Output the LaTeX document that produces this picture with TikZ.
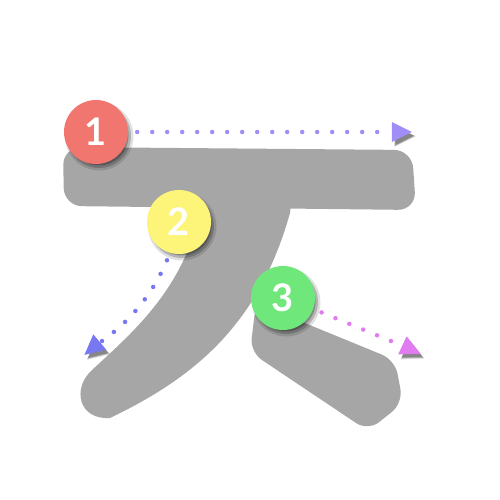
\documentclass[tikz,border=0pt]{standalone}
\usepackage{fontspec}
\setsansfont{Lato}
\usetikzlibrary{shapes.geometric,shadows}

\definecolor{strokegray}{HTML}{A6A6A6}
\definecolor{numred}{HTML}{F0766F}
\definecolor{numyellow}{HTML}{FDF47A}
\definecolor{numgreen}{HTML}{6FE77A}
\definecolor{dotlilac}{HTML}{A08DF6}
\definecolor{dotblue}{HTML}{7878F2}
\definecolor{dotpink}{HTML}{E07CF0}

\tikzset{
  softshadow/.style={
    drop shadow={shadow xshift=3pt, shadow yshift=-4pt, shadow scale=1.07, fill=black, opacity=0.12},
    drop shadow={shadow xshift=3pt, shadow yshift=-4pt, shadow scale=1.0, fill=black, opacity=0.2},
    drop shadow={shadow xshift=3pt, shadow yshift=-4pt, shadow scale=0.93, fill=black, opacity=0.25}},
  numdisc/.style={circle, fill=#1, minimum size=64pt, inner sep=0pt, text=white,
    font=\sffamily\bfseries\fontsize{38}{38}\selectfont, softshadow},
  dotline/.style={draw=#1, line width=4.5pt, line cap=round, dash pattern=on 0pt off 15pt},
  tiphead/.style={isosceles triangle, isosceles triangle stretches, fill=#1, inner sep=0pt,
    minimum height=20pt, minimum width=20pt, softshadow},
}

\begin{document}
\begin{tikzpicture}[x=1pt,y=-1pt]
  \useasboundingbox (0,0) rectangle (500,500);
  \def\strokediscs{1/96/132/numred,2/179/222/numyellow,3/283/298/numgreen} % (format: number/x/y/colour)

  % the three strokes
  \fill[strokegray, rounded corners=18pt] (63,147) -- (412,150) -- (416,210) -- (64,206) -- cycle;
  \fill[strokegray] (195,195) -- (192,240) .. controls (170,300) and (130,335) .. (92,370)
     .. controls (72,388) and (78,420) .. (110,418) .. controls (200,375) and (260,320) .. (290,213)
     -- (292,195) -- cycle;
  \fill[strokegray, rounded corners=14pt] (256,303) -- (395,360) -- (403,403) -- (368,431) -- (250,352) -- cycle;

  \foreach \n/\x/\y/\c in \strokediscs {
     \node[numdisc=\c] (n\n) at (\x,\y) {\n};
  }
  \node[tiphead=dotlilac] (t1) at (398,132) {};
  \node[tiphead=dotblue, rotate=220] (t2) at (95,346) {};
  \node[tiphead=dotpink, rotate=-25] (t3) at (408,348) {};

  \draw[dotline=dotlilac, shorten <=9pt] (n1) -- (t1);
  \draw[dotline=dotblue, shorten <=8pt] (n2.254) .. controls (150,300) and (125,325) .. (t2);
  \draw[dotline=dotpink, shorten <=9pt] (n3.-20) -- (t3);
\end{tikzpicture}
\end{document}
